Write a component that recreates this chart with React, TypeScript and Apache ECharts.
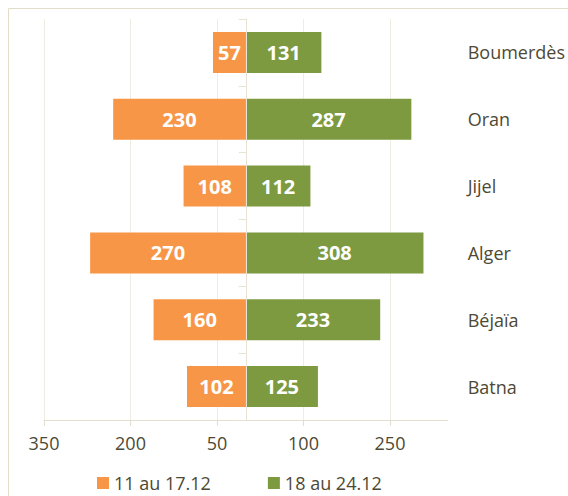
import React, { useEffect, useRef } from "react";
import * as echarts from "echarts";

const categories = ["Boumerdès", "Oran", "Jijel", "Alger", "Béjaïa", "Batna"];
const week1Name = "11 au 17.12";
const week2Name = "18 au 24.12";
const week1Values = [57, 230, 108, 270, 160, 102];
const week2Values = [131, 287, 112, 308, 233, 125];
const xTicks = [-350, -200, -50, 100, 250];

const FONT = "'Open Sans', sans-serif";
const TEXT = "#4d4934";

export default function App() {
  const ref = useRef<HTMLDivElement>(null);
  useEffect(() => {
    document.body.style.margin = "0";
    const chart = echarts.init(ref.current!, null, { renderer: "svg" });
    chart.setOption({
      animation: false,
      backgroundColor: "#ffffff",
      textStyle: { fontFamily: FONT },
      grid: { left: 44, right: 116, top: 19, bottom: 76, containLabel: false },
      graphic: [
        {
          type: "rect",
          shape: { x: 8.5, y: 8.5, width: 700, height: 700 },
          style: { fill: "none", stroke: "#e2ddc9", lineWidth: 1 },
          silent: true,
          z: -10,
        },
      ],
      legend: {
        left: 97,
        top: 473,
        padding: 0,
        itemWidth: 12,
        itemHeight: 12,
        itemGap: 57,
        icon: "rect",
        textStyle: { color: TEXT, fontSize: 18, fontFamily: FONT, lineHeight: 20 },
        data: [week1Name, week2Name],
      },
      xAxis: {
        type: "value",
        min: -350,
        max: 350,
        axisLine: { show: true, onZero: false, lineStyle: { color: "#e3dfd0", width: 1 } },
        axisTick: { show: true, length: 6, customValues: xTicks, lineStyle: { color: "#e3dfd0" } },
        axisLabel: {
          customValues: xTicks,
          color: TEXT,
          fontSize: 18,
          fontFamily: FONT,
          margin: 14,
          formatter: (v: number) => String(Math.abs(v)),
        },
        splitLine: { show: true, lineStyle: { color: "#efece2", width: 1 } },
      },
      yAxis: [
        {
          type: "category",
          inverse: true,
          data: categories,
          position: "left",
          axisLine: { show: true, onZero: true, lineStyle: { color: "#e6e2d4" } },
          axisTick: { show: true, length: 7, lineStyle: { color: "#e6e2d4" } },
          axisLabel: { show: false },
          splitLine: { show: false },
          z: 5,
        },
        {
          type: "category",
          inverse: true,
          data: categories,
          position: "right",
          axisLine: { show: false },
          axisTick: { show: false },
          axisLabel: { show: true, color: TEXT, fontSize: 18, fontFamily: FONT, margin: 20 },
          splitLine: { show: false },
        },
      ],
      series: [
        {
          name: week1Name,
          type: "bar",
          yAxisIndex: 0,
          data: week1Values.map((v) => -v),
          barWidth: 41,
          barGap: "-100%",
          itemStyle: { color: "#f79646" },
          label: {
            show: true,
            position: "inside",
            color: "#ffffff",
            fontWeight: "bold",
            fontSize: 20,
            fontFamily: FONT,
            formatter: (p: any) => String(Math.abs(p.value)),
          },
        },
        {
          name: week2Name,
          type: "bar",
          yAxisIndex: 0,
          data: week2Values,
          barWidth: 41,
          barGap: "-100%",
          itemStyle: { color: "#7d9a40" },
          label: {
            show: true,
            position: "inside",
            color: "#ffffff",
            fontWeight: "bold",
            fontSize: 20,
            fontFamily: FONT,
          },
        },
      ],
    });
    return () => chart.dispose();
  }, []);
  return <div ref={ref} style={{ width: 568, height: 496 }} />;
}
